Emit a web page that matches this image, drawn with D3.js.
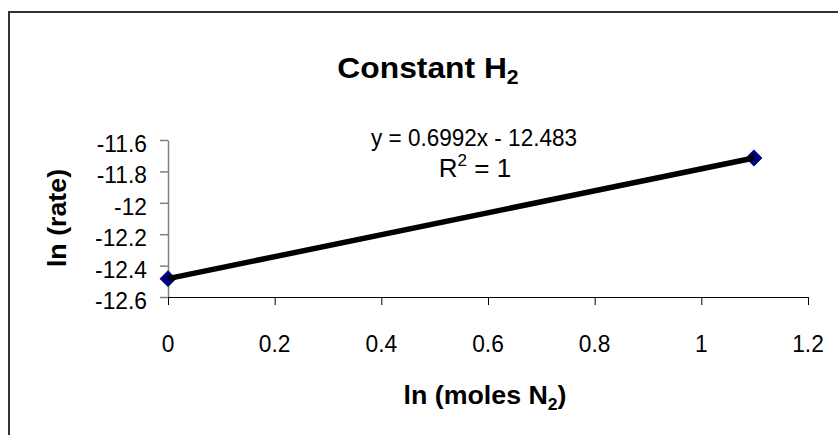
<!DOCTYPE html>
<html>
<head>
<meta charset="utf-8">
<script src="https://cdn.jsdelivr.net/npm/d3@7"></script>
<style>
  html, body { margin: 0; padding: 0; background: #fff; }
  svg { display: block; }
  text { font-family: "Liberation Sans", Arial, sans-serif; fill: #000; }
</style>
</head>
<body>
<svg id="chart" width="838" height="435"></svg>
<script>
// ---- data ----
const xValues = [0, 1.0986];
const yValues = [-12.483, -11.715];
const xTicks = [0, 0.2, 0.4, 0.6, 0.8, 1, 1.2];
const yTicks = [-11.6, -11.8, -12, -12.2, -12.4, -12.6];
const slope = 0.6992;
const intercept = -12.483;
const equationText = "y = 0.6992x - 12.483";

const svg = d3.select("#chart");
const W = 838, H = 435;

svg.append("rect").attr("x", 0).attr("y", 0).attr("width", W).attr("height", H).attr("fill", "#fff");
// outer chart border (extends past right/bottom edges)
svg.append("rect").attr("x", 9).attr("y", 12).attr("width", W).attr("height", H)
  .attr("fill", "none").attr("stroke", "#333").attr("stroke-width", 2);

const x = d3.scaleLinear().domain([0, 1.2]).range([168, 808]);
const y = d3.scaleLinear().domain([-12.6, -11.6]).range([297, 140]);

function stretchedText(px, py, anchor, size, weight, sx) {
  const g = svg.append("g").attr("transform", `translate(${px},${py}) scale(${sx},1)`);
  return g.append("text").attr("text-anchor", anchor).attr("font-size", size).attr("font-weight", weight || "normal");
}

// Y axis
const yAxis = d3.axisLeft(y).tickValues(yTicks).tickSize(8).tickSizeOuter(0);
const gy = svg.append("g").attr("transform", `translate(${x(0)},0)`).call(yAxis);
gy.select(".domain").attr("stroke", "#808080").attr("stroke-width", 1.5);
gy.selectAll(".tick line").attr("stroke", "#808080").attr("stroke-width", 1.5);
gy.selectAll(".tick text").remove();
yTicks.forEach(v => {
  stretchedText(147, y(v) + 12, "end", 24.5, "normal", 0.93).text(String(v));
});

// X axis
const xAxis = d3.axisBottom(x).tickValues(xTicks).tickSize(8).tickSizeOuter(0);
const gx = svg.append("g").attr("transform", `translate(0,${y(-12.6)})`).call(xAxis);
gx.select(".domain").attr("stroke", "#000").attr("stroke-width", 1);
gx.selectAll(".tick line").attr("stroke", "#000").attr("stroke-width", 1);
gx.selectAll(".tick text").remove();
xTicks.forEach(v => {
  stretchedText(x(v), 352, "middle", 24.5, "normal", 0.93).text(String(v));
});

// markers
svg.selectAll("path.marker").data(xValues).enter().append("path")
  .attr("class", "marker")
  .attr("d", d3.symbol().type(d3.symbolSquare).size(120))
  .attr("transform", (d, i) => `translate(${x(d)},${y(yValues[i])}) rotate(45)`)
  .attr("fill", "#000080").attr("stroke", "#000080");

// trendline
const xMin = d3.min(xValues), xMax = d3.max(xValues);
svg.append("line")
  .attr("x1", x(xMin)).attr("y1", y(slope * xMin + intercept))
  .attr("x2", x(xMax)).attr("y2", y(slope * xMax + intercept))
  .attr("stroke", "#000").attr("stroke-width", 5.5);

// title
const t = stretchedText(428, 78, "middle", 30, "bold", 1.06);
t.append("tspan").text("Constant H");
t.append("tspan").attr("font-size", 20).attr("dy", 6).text("2");

// equation
stretchedText(474, 146, "middle", 24.5, "normal", 0.92).text(equationText);
const r = stretchedText(475, 177, "middle", 26, "normal", 1.0);
r.append("tspan").text("R");
r.append("tspan").attr("font-size", 17).attr("dy", -11).text("2");
r.append("tspan").attr("dy", 11).text(" = 1");

// axis titles
const xt = stretchedText(485, 404, "middle", 26, "bold", 1.03);
xt.append("tspan").text("ln (moles N");
xt.append("tspan").attr("font-size", 17).attr("dy", 6).text("2");
xt.append("tspan").attr("dy", -6).text(")");

const ygt = svg.append("g").attr("transform", `translate(66,218) rotate(-90) scale(1.03,1)`);
ygt.append("text").attr("text-anchor", "middle").attr("font-size", 26).attr("font-weight", "bold").text("ln (rate)");
</script>
</body>
</html>
